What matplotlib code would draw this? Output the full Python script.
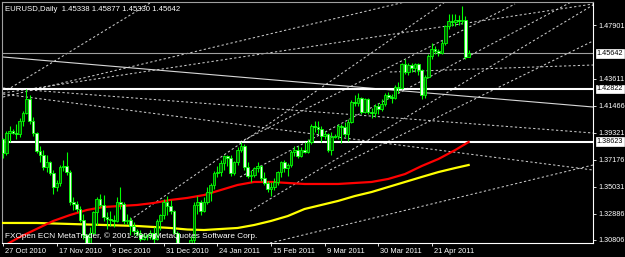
import numpy as np
import matplotlib
matplotlib.use("Agg")
import matplotlib.pyplot as plt
import matplotlib.transforms as mtransforms

plt.rcParams['font.family'] = ['Liberation Sans', 'DejaVu Sans']

# ---------------- data ----------------
opens = [1.3880,1.3770,1.3930,1.3945,1.3930,1.3925,1.4030,1.4090,1.4200,1.4030,
         1.3930,1.3790,1.3760,1.3660,1.3700,1.3610,1.3500,1.3530,1.3660,1.3670,
         1.3620,1.3380,1.3370,1.3330,1.3240,1.3120,1.3000,1.3140,1.3300,1.3410,
         1.3360,1.3260,1.3250,1.3240,1.3230,1.3380,1.3370,1.3230,1.3240,1.3190,
         1.3150,1.3130,1.3090,1.3110,1.3120,1.3140,1.3090,1.3230,1.3280,1.3380,
         1.3350,1.3310,1.3140,1.3000,1.2910,1.2960,1.2970,1.3080,1.3360,1.3380,
         1.3310,1.3380,1.3460,1.3520,1.3610,1.3620,1.3690,1.3750,1.3730,1.3610,
         1.3700,1.3800,1.3830,1.3660,1.3590,1.3600,1.3650,1.3670,1.3570,1.3530,
         1.3490,1.3500,1.3540,1.3620,1.3700,1.3650,1.3680,1.3780,1.3800,1.3750,
         1.3800,1.3780,1.3860,1.3990,1.3980,1.3960,1.3910,1.3920,1.3800,1.3900,
         1.3910,1.3990,1.3980,1.3920,1.4020,1.4180,1.4170,1.4210,1.4100,1.4200,
         1.4100,1.4090,1.4150,1.4120,1.4160,1.4230,1.4220,1.4210,1.4300,1.4290,
         1.4480,1.4420,1.4470,1.4450,1.4480,1.4430,1.4230,1.4380,1.4540,1.4600,
         1.4580,1.4570,1.4650,1.4780,1.4820,1.4810,1.4830,1.4820,1.4830,1.45338]
highs = [1.3895,1.3950,1.3990,1.3960,1.4000,1.4050,1.4110,1.4282,1.4230,1.4060,
         1.3940,1.3830,1.3800,1.3760,1.3710,1.3640,1.3560,1.3680,1.3720,1.3780,
         1.3640,1.3420,1.3390,1.3350,1.3290,1.3130,1.3180,1.3310,1.3420,1.3450,
         1.3440,1.3300,1.3310,1.3280,1.3420,1.3500,1.3380,1.3290,1.3260,1.3220,
         1.3170,1.3160,1.3140,1.3130,1.3160,1.3180,1.3250,1.3290,1.3410,1.3430,
         1.3400,1.3320,1.3150,1.3030,1.2970,1.3010,1.3110,1.3380,1.3430,1.3400,
         1.3420,1.3500,1.3530,1.3630,1.3670,1.3720,1.3760,1.3760,1.3760,1.3710,
         1.3820,1.3860,1.3840,1.3700,1.3640,1.3660,1.3700,1.3680,1.3620,1.3550,
         1.3540,1.3570,1.3630,1.3710,1.3720,1.3690,1.3800,1.3830,1.3830,1.3820,
         1.3860,1.3880,1.4000,1.4030,1.4030,1.3990,1.3950,1.3930,1.3940,1.3920,
         1.4000,1.4000,1.4020,1.4040,1.4190,1.4230,1.4250,1.4220,1.4210,1.4210,
         1.4130,1.4160,1.4170,1.4200,1.4250,1.4260,1.4240,1.4310,1.4340,1.4490,
         1.4520,1.4490,1.4490,1.4490,1.4490,1.4440,1.4390,1.4560,1.4650,1.4620,
         1.4600,1.4670,1.4790,1.4880,1.4880,1.4880,1.4870,1.4940,1.4860,1.45877]
lows = [1.3730,1.3760,1.3860,1.3920,1.3880,1.3900,1.3990,1.4080,1.4000,1.3910,
        1.3770,1.3700,1.3640,1.3620,1.3600,1.3450,1.3470,1.3510,1.3630,1.3600,
        1.3360,1.3320,1.3300,1.3220,1.3090,1.2970,1.2990,1.3120,1.3200,1.3340,
        1.3230,1.3170,1.3190,1.3180,1.3220,1.3330,1.3210,1.3210,1.3120,1.3120,
        1.3110,1.3070,1.3080,1.3080,1.3090,1.3060,1.3080,1.3160,1.3250,1.3280,
        1.3290,1.3130,1.2990,1.2870,1.2860,1.2900,1.2950,1.3050,1.3290,1.3280,
        1.3300,1.3370,1.3390,1.3490,1.3580,1.3590,1.3640,1.3670,1.3590,1.3600,
        1.3680,1.3780,1.3640,1.3570,1.3540,1.3580,1.3620,1.3550,1.3520,1.3460,
        1.3430,1.3480,1.3520,1.3580,1.3620,1.3590,1.3660,1.3750,1.3730,1.3740,
        1.3770,1.3770,1.3840,1.3940,1.3920,1.3860,1.3880,1.3780,1.3760,1.3890,
        1.3880,1.3850,1.3900,1.3870,1.4010,1.4150,1.4150,1.4080,1.4090,1.4080,
        1.4050,1.4060,1.4080,1.4110,1.4150,1.4200,1.4170,1.4200,1.4250,1.4280,
        1.4400,1.4390,1.4420,1.4420,1.4390,1.4200,1.4210,1.4370,1.4520,1.4560,
        1.4540,1.4560,1.4630,1.4760,1.4780,1.4780,1.4790,1.4800,1.4520,1.45330]
closes = [1.3770,1.3930,1.3945,1.3930,1.3925,1.4030,1.4090,1.4200,1.4030,1.3930,
          1.3790,1.3760,1.3660,1.3700,1.3610,1.3500,1.3530,1.3660,1.3670,1.3620,
          1.3380,1.3370,1.3330,1.3240,1.3120,1.3000,1.3140,1.3300,1.3410,1.3360,
          1.3260,1.3250,1.3240,1.3230,1.3380,1.3370,1.3230,1.3240,1.3190,1.3150,
          1.3130,1.3090,1.3110,1.3120,1.3140,1.3090,1.3230,1.3280,1.3380,1.3350,
          1.3310,1.3140,1.3000,1.2910,1.2960,1.2970,1.3080,1.3360,1.3380,1.3310,
          1.3380,1.3460,1.3520,1.3610,1.3620,1.3690,1.3750,1.3730,1.3610,1.3700,
          1.3800,1.3830,1.3660,1.3590,1.3600,1.3650,1.3670,1.3570,1.3530,1.3490,
          1.3500,1.3540,1.3620,1.3700,1.3650,1.3680,1.3780,1.3800,1.3750,1.3800,
          1.3780,1.3860,1.3990,1.3980,1.3960,1.3910,1.3920,1.3800,1.3900,1.3910,
          1.3990,1.3980,1.3920,1.4020,1.4180,1.4170,1.4210,1.4100,1.4200,1.4100,
          1.4090,1.4150,1.4120,1.4160,1.4230,1.4220,1.4210,1.4300,1.4290,1.4480,
          1.4420,1.4470,1.4450,1.4480,1.4430,1.4230,1.4380,1.4540,1.4600,1.4580,
          1.4570,1.4650,1.4780,1.4820,1.4810,1.4830,1.4820,1.4830,1.45338,1.45642]

# moving averages (sampled along the bars)
ma_red_bars = [0, 2, 5, 10, 15, 20, 25, 30, 35, 40, 45, 50, 55, 60, 65, 70, 75, 80,
               85, 90, 95, 100, 105, 110, 115, 120, 125, 130, 135, 139]
ma_red = [1.3025, 1.3060, 1.3104, 1.3168, 1.3232, 1.3279, 1.3319, 1.3343, 1.3351,
          1.3359, 1.3375, 1.3399, 1.3415, 1.3438, 1.3478, 1.3518, 1.3542, 1.3542,
          1.3534, 1.3526, 1.3526, 1.3526, 1.3534, 1.3542, 1.3566, 1.3605, 1.3669,
          1.3725, 1.3796, 1.3860]
ma_yel_bars = [0, 10, 20, 30, 40, 50, 55, 60, 65, 70, 75, 80, 85, 90, 95, 100, 105,
               110, 115, 120, 125, 130, 135, 139]
ma_yel = [1.3216, 1.3216, 1.3208, 1.3200, 1.3192, 1.3176, 1.3164, 1.3160, 1.3168,
          1.3176, 1.3200, 1.3232, 1.3271, 1.3327, 1.3359, 1.3391, 1.3430, 1.3462,
          1.3502, 1.3542, 1.3582, 1.3621, 1.3653, 1.3677]

# trend lines: (bar0, price0, bar1, price1)
dashed_lines = [
    (1.19, 1.42732, 43.88, 1.49650),
    (0.0, 1.42176, 120.0, 1.49730),
    (0.0, 1.42494, 176.12, 1.49571),
    (0.0, 1.42891, 176.12, 1.39313),
    (0.0, 1.42414, 176.12, 1.36371),
    (37.91, 1.32395, 131.94, 1.49730),
    (70.75, 1.38597, 152.84, 1.49571),
    (70.75, 1.35814, 170.75, 1.49889),
    (73.73, 1.33111, 176.12, 1.49491),
    (97.61, 1.36371, 176.12, 1.46629),
    (79.70, 1.30567, 176.12, 1.36769),
    (115.5, 1.44164, 176.12, 1.44720),
]
solid_line = (0.0, 1.45357, 176.12, 1.41381)
white_levels = [1.42822, 1.38623]
last_price = 1.45642

right_ticks = [1.47901, 1.43611, 1.41466, 1.39321, 1.37176, 1.35031, 1.32886, 1.30806]
boxed_ticks = [1.45642, 1.42822, 1.38623]
date_pos = [0, 16, 32, 48, 64, 80, 96, 112, 128]
date_labels = ["27 Oct 2010", "17 Nov 2010", "9 Dec 2010", "31 Dec 2010", "24 Jan 2011",
               "15 Feb 2011", "9 Mar 2011", "30 Mar 2011", "21 Apr 2011"]
title = "EURUSD,Daily  1.45338 1.45877 1.45330 1.45642"
footer = "FXOpen ECN MetaTrader, \u00a9 2001-2009 MetaQuotes Software Corp."

# ---------------- plot ----------------
W, H = 625, 257
fig = plt.figure(figsize=(W / 100, H / 100), dpi=100, facecolor='black')
ax = fig.add_axes([2 / W, 14 / H, 591 / W, 241 / H], facecolor='black')
ax.set_xlim(-0.3, 176.12)
ax.set_ylim(1.30567, 1.49730)

fs = 5.6
fs_r = 5.2
grey = '#c8c8c8'

for (b0, p0, b1, p1) in dashed_lines:
    ax.plot([b0, b1], [p0, p1], color=grey, lw=0.75, linestyle=(0, (2.2, 2.2)), zorder=2)
ax.plot([solid_line[0], solid_line[2]], [solid_line[1], solid_line[3]],
        color='#d8d8d8', lw=0.8, zorder=2)
ax.axhline(last_price, color='#a0a0a0', lw=0.8, zorder=2)
for lv in white_levels:
    ax.axhline(lv, color='white', lw=1.5, zorder=2)

ax.plot(ma_yel_bars, ma_yel, color='#ffff00', lw=1.6, zorder=4)
ax.plot(ma_red_bars, ma_red, color='#ff0000', lw=1.6, zorder=4)

o = np.array(opens); h = np.array(highs); l = np.array(lows); c = np.array(closes)
idx = np.arange(len(o))
bull = c >= o
ax.vlines(idx, l, h, color='#00ff00', lw=0.8, zorder=5)
bottom = np.minimum(o, c)
height = np.maximum(np.abs(c - o), 0.0002)
ax.bar(idx, height, bottom=bottom, width=0.8,
       color=np.where(bull, '#006000', '#e8ffe8'), edgecolor='#00ff00', lw=0.6, zorder=6)

# axes styling
for s in ['left', 'top']:
    ax.spines[s].set_color('#a0a0a0')
    ax.spines[s].set_linewidth(0.8)
for s in ['right', 'bottom']:
    ax.spines[s].set_color('white')
    ax.spines[s].set_linewidth(0.8)

ax.yaxis.tick_right()
ax.set_yticks(right_ticks)
ax.set_yticklabels([f"{v:.5f}" for v in right_ticks])
ax.tick_params(axis='y', colors='white', labelcolor='white', length=2.5, width=0.6,
               pad=1.2, labelsize=fs_r)
ax.set_xticks(date_pos)
ax.set_xticklabels(date_labels, ha='left')
ax.tick_params(axis='x', colors='white', labelcolor='white', length=2.5, width=0.6,
               pad=1.0, labelsize=5.4)

offset = mtransforms.ScaledTranslation(1.5 / 72, 0, fig.dpi_scale_trans)
for lab in ax.get_xticklabels():
    lab.set_transform(lab.get_transform() + offset)

for v in boxed_ticks:
    ax.text(1.0062, v, f"{v:.5f}", transform=ax.get_yaxis_transform(), color='black',
            fontsize=fs_r, va='center', ha='left', zorder=10, clip_on=False,
            bbox=dict(boxstyle='square,pad=0.12', fc='white', ec='white', lw=0.5))

ax.text(0.005, 0.985, title, transform=ax.transAxes, color='white', fontsize=fs,
        va='top', ha='left', zorder=10)
ax.text(0.005, 0.012, footer, transform=ax.transAxes, color='white', fontsize=5.95,
        va='bottom', ha='left', zorder=10)

fig.savefig('out.png', dpi=100, facecolor='black')
